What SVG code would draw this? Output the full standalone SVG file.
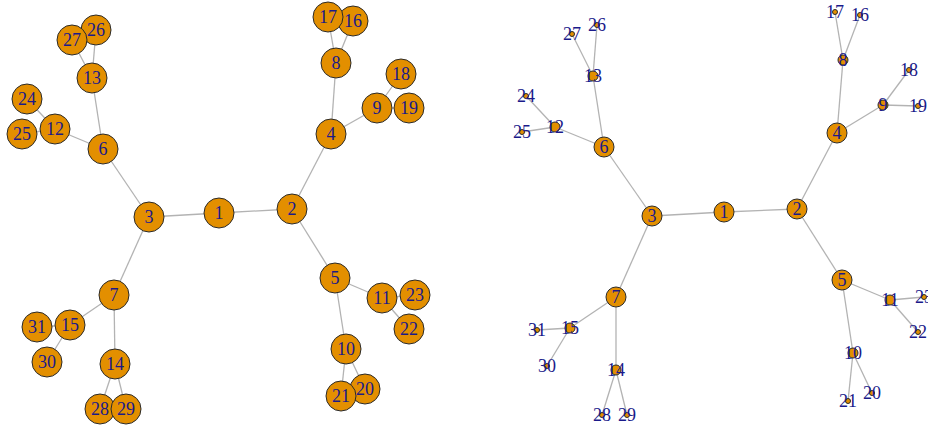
<svg xmlns="http://www.w3.org/2000/svg" width="928" height="430" viewBox="0 0 928 430">
<style>
.e line{stroke:#b3b3b3;stroke-width:1.3}
.n circle{fill:#e38f00;stroke:#2a2a2a;stroke-width:1}
.n text{font-family:"Liberation Serif",serif;font-size:18px;fill:#1a1a8a;text-anchor:middle;dominant-baseline:central}
</style>
<rect width="928" height="430" fill="#fff"/>
<g id="edges-left" class="e">
<line x1="219" y1="213" x2="292" y2="209"/>
<line x1="219" y1="213" x2="149" y2="217"/>
<line x1="292" y1="209" x2="331" y2="134"/>
<line x1="292" y1="209" x2="335" y2="278"/>
<line x1="149" y1="217" x2="103" y2="149"/>
<line x1="149" y1="217" x2="114" y2="295"/>
<line x1="331" y1="134" x2="336" y2="63"/>
<line x1="331" y1="134" x2="377" y2="108"/>
<line x1="335" y1="278" x2="346" y2="349"/>
<line x1="335" y1="278" x2="382" y2="298"/>
<line x1="103" y1="149" x2="55" y2="129"/>
<line x1="103" y1="149" x2="92" y2="78"/>
<line x1="114" y1="295" x2="115" y2="364"/>
<line x1="114" y1="295" x2="70" y2="325"/>
<line x1="336" y1="63" x2="353" y2="21"/>
<line x1="336" y1="63" x2="328" y2="17"/>
<line x1="377" y1="108" x2="401" y2="74"/>
<line x1="377" y1="108" x2="409" y2="108"/>
<line x1="346" y1="349" x2="365" y2="389"/>
<line x1="346" y1="349" x2="341" y2="396"/>
<line x1="382" y1="298" x2="409" y2="329"/>
<line x1="382" y1="298" x2="415" y2="295"/>
<line x1="55" y1="129" x2="27" y2="99"/>
<line x1="55" y1="129" x2="22" y2="134"/>
<line x1="92" y1="78" x2="96" y2="30"/>
<line x1="92" y1="78" x2="72" y2="40"/>
<line x1="115" y1="364" x2="100" y2="409"/>
<line x1="115" y1="364" x2="126" y2="409"/>
<line x1="70" y1="325" x2="47" y2="362"/>
<line x1="70" y1="325" x2="37" y2="327"/>
</g>
<g id="edges-right" class="e">
<line x1="724" y1="212" x2="797" y2="209"/>
<line x1="724" y1="212" x2="652" y2="216"/>
<line x1="797" y1="209" x2="837" y2="133"/>
<line x1="797" y1="209" x2="842" y2="280"/>
<line x1="652" y1="216" x2="604" y2="147"/>
<line x1="652" y1="216" x2="616" y2="297"/>
<line x1="837" y1="133" x2="843" y2="60"/>
<line x1="837" y1="133" x2="883" y2="105"/>
<line x1="842" y1="280" x2="853" y2="353"/>
<line x1="842" y1="280" x2="890" y2="300"/>
<line x1="604" y1="147" x2="555" y2="127"/>
<line x1="604" y1="147" x2="593" y2="76"/>
<line x1="616" y1="297" x2="616" y2="370"/>
<line x1="616" y1="297" x2="570" y2="328"/>
<line x1="843" y1="60" x2="860" y2="15"/>
<line x1="843" y1="60" x2="835" y2="12"/>
<line x1="883" y1="105" x2="909" y2="70"/>
<line x1="883" y1="105" x2="918" y2="106"/>
<line x1="853" y1="353" x2="872" y2="393"/>
<line x1="853" y1="353" x2="848" y2="401"/>
<line x1="890" y1="300" x2="918" y2="332"/>
<line x1="890" y1="300" x2="924" y2="297"/>
<line x1="555" y1="127" x2="526" y2="96"/>
<line x1="555" y1="127" x2="522" y2="132"/>
<line x1="593" y1="76" x2="597" y2="25"/>
<line x1="593" y1="76" x2="572" y2="34"/>
<line x1="616" y1="370" x2="602" y2="415"/>
<line x1="616" y1="370" x2="627" y2="415"/>
<line x1="570" y1="328" x2="547" y2="366"/>
<line x1="570" y1="328" x2="537" y2="330"/>
</g>
<g id="nodes-left" class="n">
<g id="l1"><circle cx="219" cy="213" r="15"/><text x="219" y="213">1</text></g>
<g id="l2"><circle cx="292" cy="209" r="15"/><text x="292" y="209">2</text></g>
<g id="l3"><circle cx="149" cy="217" r="15"/><text x="149" y="217">3</text></g>
<g id="l4"><circle cx="331" cy="134" r="15"/><text x="331" y="134">4</text></g>
<g id="l5"><circle cx="335" cy="278" r="15"/><text x="335" y="278">5</text></g>
<g id="l6"><circle cx="103" cy="149" r="15"/><text x="103" y="149">6</text></g>
<g id="l7"><circle cx="114" cy="295" r="15"/><text x="114" y="295">7</text></g>
<g id="l8"><circle cx="336" cy="63" r="15"/><text x="336" y="63">8</text></g>
<g id="l9"><circle cx="377" cy="108" r="15"/><text x="377" y="108">9</text></g>
<g id="l10"><circle cx="346" cy="349" r="15"/><text x="346" y="349">10</text></g>
<g id="l11"><circle cx="382" cy="298" r="15"/><text x="382" y="298">11</text></g>
<g id="l12"><circle cx="55" cy="129" r="15"/><text x="55" y="129">12</text></g>
<g id="l13"><circle cx="92" cy="78" r="15"/><text x="92" y="78">13</text></g>
<g id="l14"><circle cx="115" cy="364" r="15"/><text x="115" y="364">14</text></g>
<g id="l15"><circle cx="70" cy="325" r="15"/><text x="70" y="325">15</text></g>
<g id="l16"><circle cx="353" cy="21" r="15"/><text x="353" y="21">16</text></g>
<g id="l17"><circle cx="328" cy="17" r="15"/><text x="328" y="17">17</text></g>
<g id="l18"><circle cx="401" cy="74" r="15"/><text x="401" y="74">18</text></g>
<g id="l19"><circle cx="409" cy="108" r="15"/><text x="409" y="108">19</text></g>
<g id="l20"><circle cx="365" cy="389" r="15"/><text x="365" y="389">20</text></g>
<g id="l21"><circle cx="341" cy="396" r="15"/><text x="341" y="396">21</text></g>
<g id="l22"><circle cx="409" cy="329" r="15"/><text x="409" y="329">22</text></g>
<g id="l23"><circle cx="415" cy="295" r="15"/><text x="415" y="295">23</text></g>
<g id="l24"><circle cx="27" cy="99" r="15"/><text x="27" y="99">24</text></g>
<g id="l25"><circle cx="22" cy="134" r="15"/><text x="22" y="134">25</text></g>
<g id="l26"><circle cx="96" cy="30" r="15"/><text x="96" y="30">26</text></g>
<g id="l27"><circle cx="72" cy="40" r="15"/><text x="72" y="40">27</text></g>
<g id="l28"><circle cx="100" cy="409" r="15"/><text x="100" y="409">28</text></g>
<g id="l29"><circle cx="126" cy="409" r="15"/><text x="126" y="409">29</text></g>
<g id="l30"><circle cx="47" cy="362" r="15"/><text x="47" y="362">30</text></g>
<g id="l31"><circle cx="37" cy="327" r="15"/><text x="37" y="327">31</text></g>
</g>
<g id="nodes-right" class="n">
<g id="r1"><circle cx="724" cy="212" r="10"/><text x="724" y="212">1</text></g>
<g id="r2"><circle cx="797" cy="209" r="10"/><text x="797" y="209">2</text></g>
<g id="r3"><circle cx="652" cy="216" r="10"/><text x="652" y="216">3</text></g>
<g id="r4"><circle cx="837" cy="133" r="10"/><text x="837" y="133">4</text></g>
<g id="r5"><circle cx="842" cy="280" r="10"/><text x="842" y="280">5</text></g>
<g id="r6"><circle cx="604" cy="147" r="10"/><text x="604" y="147">6</text></g>
<g id="r7"><circle cx="616" cy="297" r="10"/><text x="616" y="297">7</text></g>
<g id="r8"><circle cx="843" cy="60" r="5"/><text x="843" y="60">8</text></g>
<g id="r9"><circle cx="883" cy="105" r="5"/><text x="883" y="105">9</text></g>
<g id="r10"><circle cx="853" cy="353" r="5"/><text x="853" y="353">10</text></g>
<g id="r11"><circle cx="890" cy="300" r="5"/><text x="890" y="300">11</text></g>
<g id="r12"><circle cx="555" cy="127" r="5"/><text x="555" y="127">12</text></g>
<g id="r13"><circle cx="593" cy="76" r="5"/><text x="593" y="76">13</text></g>
<g id="r14"><circle cx="616" cy="370" r="5"/><text x="616" y="370">14</text></g>
<g id="r15"><circle cx="570" cy="328" r="5"/><text x="570" y="328">15</text></g>
<g id="r16"><circle cx="860" cy="15" r="2.5"/><text x="860" y="15">16</text></g>
<g id="r17"><circle cx="835" cy="12" r="2.5"/><text x="835" y="12">17</text></g>
<g id="r18"><circle cx="909" cy="70" r="2.5"/><text x="909" y="70">18</text></g>
<g id="r19"><circle cx="918" cy="106" r="2.5"/><text x="918" y="106">19</text></g>
<g id="r20"><circle cx="872" cy="393" r="2.5"/><text x="872" y="393">20</text></g>
<g id="r21"><circle cx="848" cy="401" r="2.5"/><text x="848" y="401">21</text></g>
<g id="r22"><circle cx="918" cy="332" r="2.5"/><text x="918" y="332">22</text></g>
<g id="r23"><circle cx="924" cy="297" r="2.5"/><text x="924" y="297">23</text></g>
<g id="r24"><circle cx="526" cy="96" r="2.5"/><text x="526" y="96">24</text></g>
<g id="r25"><circle cx="522" cy="132" r="2.5"/><text x="522" y="132">25</text></g>
<g id="r26"><circle cx="597" cy="25" r="2.5"/><text x="597" y="25">26</text></g>
<g id="r27"><circle cx="572" cy="34" r="2.5"/><text x="572" y="34">27</text></g>
<g id="r28"><circle cx="602" cy="415" r="2.5"/><text x="602" y="415">28</text></g>
<g id="r29"><circle cx="627" cy="415" r="2.5"/><text x="627" y="415">29</text></g>
<g id="r30"><circle cx="547" cy="366" r="2.5"/><text x="547" y="366">30</text></g>
<g id="r31"><circle cx="537" cy="330" r="2.5"/><text x="537" y="330">31</text></g>
</g>
</svg>
